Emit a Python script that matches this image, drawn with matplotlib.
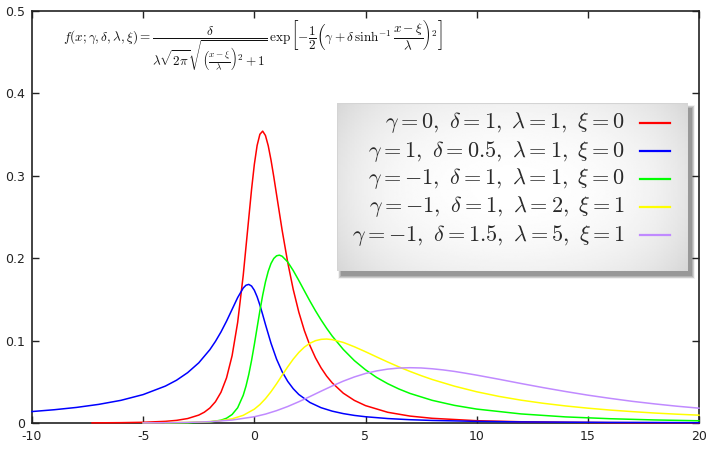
import numpy as np
import matplotlib
matplotlib.use('Agg')
import matplotlib.pyplot as plt
from matplotlib.patches import Rectangle

plt.rcParams['mathtext.fontset'] = 'cm'
plt.rcParams['font.family'] = ['DejaVu Sans']

# curve values
red_x = [-7.3, -7, -6, -5, -4, -3.5, -3, -2.5, -2.25, -2, -1.75, -1.5, -1.25, -1, -0.75,
         -0.5, -0.25, -0.125, 0, 0.125, 0.25, 0.375, 0.5, 0.625, 0.75, 0.875, 1, 1.25, 1.5,
         1.75, 2, 2.25, 2.5, 2.75, 3, 3.25, 3.5, 4, 4.5, 5, 6, 7, 8, 10, 12, 14, 16, 18, 20]
red_y = [0.00019, 0.00022, 0.00041, 0.00086, 0.0020, 0.0032, 0.0054, 0.0096, 0.0131, 0.0182,
         0.0258, 0.0373, 0.0548, 0.0817, 0.1221, 0.1791, 0.2487, 0.2834, 0.3138, 0.3368,
         0.3504, 0.3542, 0.3489, 0.3365, 0.3191, 0.2988, 0.2771, 0.2340, 0.1951, 0.1620,
         0.1346, 0.1122, 0.0940, 0.0791, 0.0670, 0.0570, 0.0488, 0.0362, 0.0274, 0.0211,
         0.0130, 0.0084, 0.0057, 0.0028, 0.0015, 0.0009, 0.0005, 0.0003, 0.0002]

blue_x = [-10, -9, -8, -7, -6, -5, -4, -3.5, -3, -2.5, -2, -1.75, -1.5, -1.25, -1, -0.75,
          -0.5, -0.375, -0.25, -0.125, 0, 0.125, 0.25, 0.375, 0.5, 0.75, 1, 1.25, 1.5, 1.75,
          2, 2.5, 3, 3.5, 4, 4.5, 5, 6, 7, 8, 10, 12, 14, 16, 18, 20]
blue_y = [0.0139, 0.0161, 0.0189, 0.0226, 0.0275, 0.0345, 0.0448, 0.0519, 0.0611, 0.0730,
          0.0890, 0.0990, 0.1105, 0.1236, 0.1379, 0.1522, 0.1638, 0.1672, 0.1682, 0.1662,
          0.1611, 0.1532, 0.1431, 0.1316, 0.1196, 0.0968, 0.0775, 0.0623, 0.0506, 0.0416,
          0.0346, 0.0249, 0.0186, 0.0144, 0.0114, 0.0092, 0.0076, 0.0054, 0.0040, 0.0031,
          0.0020, 0.0013, 0.0010, 0.0007, 0.0006, 0.0004]

green_x = [-4, -3, -2, -1.5, -1.25, -1, -0.75, -0.5, -0.375, -0.25, -0.125, 0, 0.125, 0.25,
           0.375, 0.5, 0.625, 0.75, 0.875, 1, 1.125, 1.25, 1.5, 1.75, 2, 2.25, 2.5, 2.75, 3,
           3.25, 3.5, 4, 4.5, 5, 5.5, 6, 6.5, 7, 8, 9, 10, 12, 14, 16, 18, 20]
green_y = [0.0001, 0.0003, 0.0013, 0.0034, 0.0058, 0.0103, 0.0185, 0.0336, 0.0448, 0.0589,
           0.0759, 0.0952, 0.1158, 0.1362, 0.1550, 0.1712, 0.1841, 0.1936, 0.1997, 0.2029,
           0.2037, 0.2024, 0.1955, 0.1850, 0.1730, 0.1604, 0.1480, 0.1362, 0.1252, 0.1150,
           0.1056, 0.0893, 0.0757, 0.0646, 0.0553, 0.0477, 0.0413, 0.0359, 0.0275, 0.0214,
           0.0169, 0.0110, 0.0074, 0.0052, 0.0037, 0.0027]

yellow_x = [-5, -3, -2, -1.5, -1, -0.5, 0, 0.25, 0.5, 0.75, 1, 1.25, 1.5, 1.75, 2, 2.25,
            2.5, 2.75, 3, 3.25, 3.5, 4, 4.5, 5, 5.5, 6, 6.5, 7, 7.5, 8, 9, 10, 11, 12, 13,
            14, 15, 16, 17, 18, 19, 20]
yellow_y = [0.0001, 0.0007, 0.0017, 0.0029, 0.0051, 0.0093, 0.0168, 0.0224, 0.0295, 0.0380,
            0.0476, 0.0579, 0.0681, 0.0775, 0.0856, 0.0921, 0.0968, 0.0999, 0.1015, 0.1019,
            0.1012, 0.0978, 0.0925, 0.0865, 0.0802, 0.0740, 0.0681, 0.0626, 0.0575, 0.0528,
            0.0447, 0.0379, 0.0323, 0.0277, 0.0239, 0.0207, 0.0180, 0.0157, 0.0138, 0.0121,
            0.0107, 0.0095]

purple_x = [-5, -4, -3, -2, -1, 0, 0.5, 1, 1.5, 2, 2.5, 3, 3.5, 4, 4.5, 5, 5.5, 6, 6.5, 7,
            7.5, 8, 8.5, 9, 9.5, 10, 11, 12, 13, 14, 15, 16, 17, 18, 19, 20]
purple_y = [0.0001, 0.0003, 0.0007, 0.0016, 0.0036, 0.0076, 0.0108, 0.0150, 0.0200, 0.0258,
            0.0321, 0.0386, 0.0449, 0.0508, 0.0559, 0.0601, 0.0632, 0.0654, 0.0667, 0.0671,
            0.0668, 0.0658, 0.0644, 0.0626, 0.0604, 0.0581, 0.0531, 0.0479, 0.0429, 0.0382,
            0.0338, 0.0299, 0.0263, 0.0232, 0.0204, 0.0180]

labels = [r'$\gamma=0,\ \delta=1,\ \lambda=1,\ \xi=0$',
          r'$\gamma=1,\ \delta=0.5,\ \lambda=1,\ \xi=0$',
          r'$\gamma=-1,\ \delta=1,\ \lambda=1,\ \xi=0$',
          r'$\gamma=-1,\ \delta=1,\ \lambda=2,\ \xi=1$',
          r'$\gamma=-1,\ \delta=1.5,\ \lambda=5,\ \xi=1$']
colors = ['#ff0000', '#0000ff', '#00ff00', '#ffff00', '#c08aff']
series = [(red_x, red_y), (blue_x, blue_y), (green_x, green_y),
          (yellow_x, yellow_y), (purple_x, purple_y)]

x_ticks = [-10, -5, 0, 5, 10, 15, 20]
y_ticks = [0, 0.1, 0.2, 0.3, 0.4, 0.5]
y_ticklabels = ['0', '0.1', '0.2', '0.3', '0.4', '0.5']

fig = plt.figure(figsize=(7.15, 4.5), dpi=100)
ax = fig.add_axes([32 / 715, 27 / 450, 667 / 715, 412 / 450])

for (xs, ys), c in zip(series, colors):
    ax.plot(xs, ys, color=c, lw=1.1, clip_on=False, zorder=3,
            solid_joinstyle='round')

ax.set_xlim(-10, 20)
ax.set_ylim(0, 0.5)
ax.set_xticks(x_ticks)
ax.set_xticklabels([str(t) for t in x_ticks])
ax.set_yticks(y_ticks)
ax.set_yticklabels(y_ticklabels)
ax.tick_params(direction='in', length=5, width=1, top=True, right=True,
               labelsize=9, pad=5, colors='#222222')
for sp in ax.spines.values():
    sp.set_linewidth(1.2)
    sp.set_color('#222222')

# formula
fig.text(63 / 715, 1 - 46 / 450,
         r'$f(x;\gamma,\delta,\lambda,\xi)=\dfrac{\delta}{\lambda\sqrt{2\pi}\sqrt{\left(\frac{x-\xi}{\lambda}\right)^2+1}}'
         r'\,\exp\left[-\dfrac{1}{2}\left(\gamma+\delta\,\sinh^{-1}\dfrac{x-\xi}{\lambda}\right)^2\right]$',
         fontsize=9.5, va='center', ha='left', color='#111111')

# legend box with shadow and soft gradient
bx0, by0, bw, bh = 337 / 715, 1 - 271 / 450, 351 / 715, 168 / 450
for i, a in enumerate([0.06, 0.08, 0.10, 0.14, 0.18]):
    grow = (4 - i) * 0.8
    fig.patches.append(Rectangle((bx0 + (4 - grow) / 715, by0 - (5 + grow) / 450),
                                 bw + 2 * grow / 715, bh + 2 * grow / 450,
                                 transform=fig.transFigure, facecolor='#202020',
                                 edgecolor='none', alpha=a, zorder=2))
lax = fig.add_axes([bx0, by0, bw, bh])
lax.set_zorder(4)
lax.set_xlim(0, 1)
lax.set_ylim(0, 1)
gx, gy = np.meshgrid(np.linspace(-1, 1, 200), np.linspace(-1, 1, 120))
grad = 1 - 0.13 * np.clip(gx ** 2 + (gy / 1.1) ** 2, 0, 2) / 2 - 0.04 * np.abs(gx) ** 6
lax.imshow(grad, extent=[0, 1, 0, 1], aspect='auto', cmap='gray', vmin=0, vmax=1,
           interpolation='bilinear')
lax.add_patch(Rectangle((0, 0), 1, 1, fill=False, edgecolor='#d4d4d4', lw=0.8))
lax.set_axis_off()

row_y = [0.881, 0.714, 0.548, 0.381, 0.214]
for lab, c, yy in zip(labels, colors, row_y):
    lax.text(0.8205, yy, lab, fontsize=16, ha='right', va='center', color='#2a2a2a')
    lax.plot([0.863, 0.949], [yy, yy], color=c, lw=1.6)

fig.savefig('out.png', dpi=100)
